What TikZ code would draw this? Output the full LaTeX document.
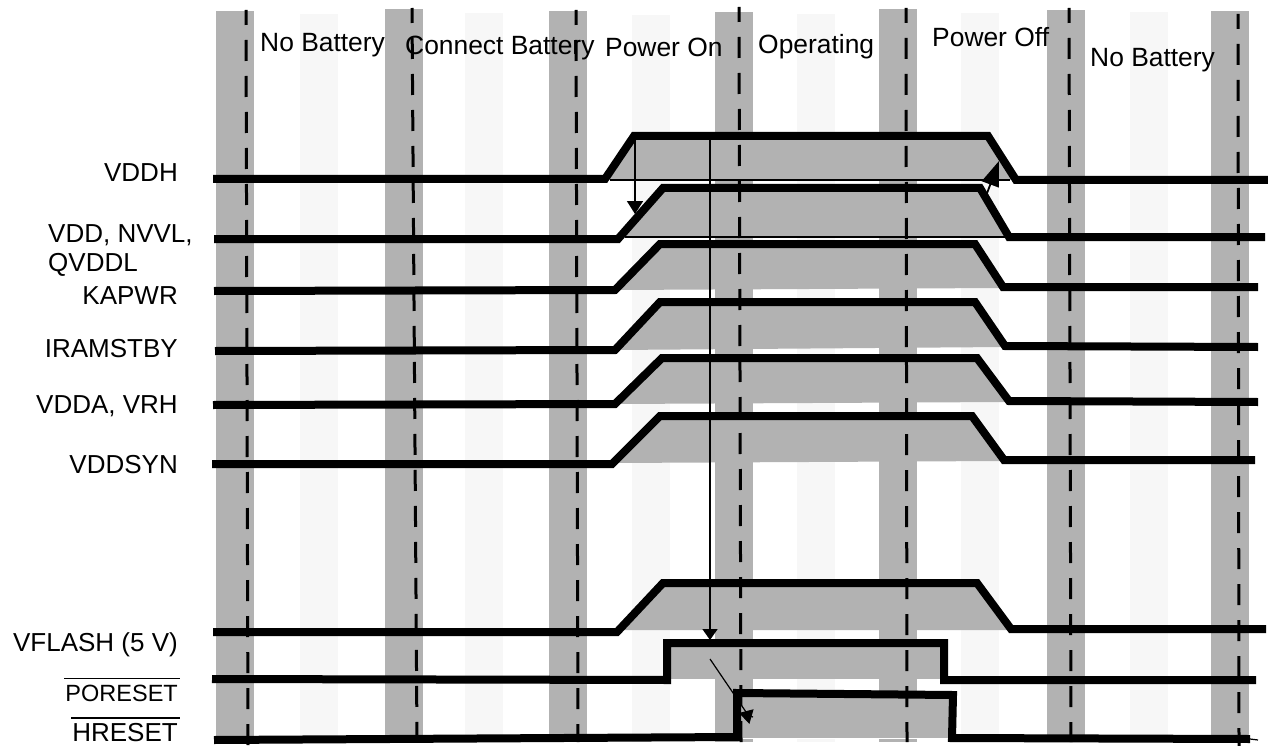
\documentclass[tikz,border=0pt]{standalone}
\usepackage{fontspec}
\setmainfont{Liberation Sans}
\usetikzlibrary{arrows.meta}
\definecolor{bardark}{HTML}{B2B2B2}
\definecolor{barlight}{HTML}{F7F7F7}
\begin{document}
\begin{tikzpicture}[x=1pt, y=-1pt,
    wave/.style={line width=8pt, miter limit=10},
    guide/.style={line width=3pt, dash pattern=on 21pt off 15pt, dash phase=6pt},
    rim/.style={line width=1.2pt},
    pointer/.style={line width=1.8pt},
    overbar/.style={line width=1.6pt},
    lab/.style={inner sep=0pt, font=\fontsize{26}{26}\selectfont},
    phase/.style={inner sep=0pt, anchor=base west, font=\fontsize{26.4}{26.4}\selectfont}]
    \useasboundingbox (0,0) rectangle (1268,746);
    % background stripes
    \fill[barlight] (300,14) rectangle (338,742);
    \fill[barlight] (465,13) rectangle (503,742);
    \fill[barlight] (632,15) rectangle (670,742);
    \fill[barlight] (797,14) rectangle (835,742);
    \fill[barlight] (961,13) rectangle (999,742);
    \fill[barlight] (1130,12) rectangle (1168,742);
    \fill[bardark] (216,11) rectangle (254,742);
    \fill[bardark] (385,9) rectangle (423,742);
    \fill[bardark] (549,11) rectangle (587,742);
    \fill[bardark] (715,12) rectangle (753,742);
    \fill[bardark] (879,9) rectangle (917,742);
    \fill[bardark] (1047,10) rectangle (1085,742);
    \fill[bardark] (1211,11) rectangle (1249,742);
    % shaded pulses
    \fill[bardark] (607,180) -- (635,136) -- (987,136) -- (1015,180) -- cycle;
    \fill[bardark] (618,237) -- (662,188) -- (980,188) -- (1008,237) -- cycle;
    \fill[bardark] (615,290) -- (660,244) -- (975,244) -- (1003,288) -- cycle;
    \fill[bardark] (615,350) -- (660,302) -- (975,302) -- (1005,347) -- cycle;
    \fill[bardark] (615,404) -- (662,358) -- (977,358) -- (1009,402) -- cycle;
    \fill[bardark] (612,463) -- (660,416) -- (972,416) -- (1004,461) -- cycle;
    \fill[bardark] (617,630) -- (663,583) -- (977,583) -- (1011,630) -- cycle;
    \fill[bardark] (667,643) rectangle (944,679);
    \fill[bardark] (737,693) -- (953,695) -- (952,738) -- (737,738) -- cycle;
    \draw[rim] (610,180) -- (1010,180);
    \draw[rim] (625,237) -- (1005,237);
    \draw[white, line width=1.5pt] (740,738.5) -- (950,738.5);
    % waveforms
    \draw[wave] (213,179) -- (605,179) -- (634,136) -- (988,136) -- (1016,180) -- (1268,180);
    \draw[wave] (214,239) -- (618,239) -- (663,188) -- (980,188) -- (1009,237) -- (1265,237);
    \draw[wave] (214,291) -- (615,290) -- (660,244) -- (975,244) -- (1003,287) -- (1258,287);
    \draw[wave] (215,351) -- (615,350) -- (660,302) -- (975,302) -- (1005,346) -- (1258,347);
    \draw[wave] (213,405) -- (615,404) -- (662,358) -- (977,358) -- (1009,401) -- (1258,402);
    \draw[wave] (212,464) -- (612,464) -- (660,416) -- (972,416) -- (1004,460) -- (1255,460);
    \draw[wave] (213,632) -- (617,632) -- (663,583) -- (977,583) -- (1011,629) -- (1266,629);
    \draw[wave] (212,679) -- (667,680) -- (667,643) -- (944,643) -- (944,680) -- (1256,680);
    \draw[wave] (214,740) -- (737,737) -- (737,693) -- (953,695) -- (952,738) -- (1250,739);
    \draw[rim] (1250,739) -- (1258,740);
    % dashed phase lines
    \draw[guide] (246,10) -- (248,746);
    \draw[guide] (412,8) -- (417,742);
    \draw[guide] (576,10) -- (578,742);
    \draw[guide] (739,7) -- (741,742);
    \draw[guide] (906,8) -- (907,742);
    \draw[guide] (1069,8) -- (1071,742);
    \draw[guide] (1238,14) -- (1239,746);
    % arrows
    \coordinate (downA) at (635,140);
    \coordinate (downB) at (635,214);
    \coordinate (longA) at (710,136);
    \coordinate (longB) at (710,640);
    \coordinate (fallA) at (986,196);
    \coordinate (fallB) at (999,161);
    \coordinate (slantA) at (710,659);
    \coordinate (slantB) at (746,712);
    \coordinate (slantC) at (753,717);
    \coordinate (slantD) at (739,713);
    \draw[pointer, -{Triangle[length=13pt,width=16pt]}] (downA) -- (downB);
    \draw[pointer, -{Triangle[length=11pt,width=15pt]}] (longA) -- (longB);
    \draw[pointer, -{Triangle[length=25pt,width=18pt]}] (fallA) -- (fallB);
    \draw[rim] (slantA) -- (slantB);
    \draw[rim, -{Triangle[length=13pt,width=15pt]}] (slantC) -- (slantD);
    % phase names
    \node[phase] (nobatA) at (260,52) {No Battery};
    \node[phase] (connect) at (405,55) {Connect Battery};
    \node[phase] (poweron) at (605,57) {Power On};
    \node[phase] (operating) at (758,54) {Operating};
    \node[phase] (poweroff) at (932,47) {Power Off};
    \node[phase] (nobatB) at (1090,67) {No Battery};
    % signal names
    \node[lab, anchor=base east] (vddh) at (178,182) {VDDH};
    \node[lab, anchor=base west] (vdd) at (48,242) {VDD, NVVL,};
    \node[lab, anchor=base west] (qvddl) at (48,271) {QVDDL};
    \node[lab, anchor=base east] (kapwr) at (178,304) {KAPWR};
    \node[lab, anchor=base east] (iramstby) at (178,357) {IRAMSTBY};
    \node[lab, anchor=base east] (vdda) at (178,413) {VDDA, VRH};
    \node[lab, anchor=base east] (vddsyn) at (178,473) {VDDSYN};
    \node[lab, anchor=base east] (vflash) at (178,651) {VFLASH (5 V)};
    \node[lab, anchor=base east, font=\fontsize{23.5}{24}\selectfont] (poreset) at (178,701) {PORESET};
    \node[lab, anchor=base east] (hreset) at (178,741.5) {HRESET};
    \draw[overbar] ([shift={(-1pt,6pt)}]poreset.north west) -- ([shift={(2pt,6pt)}]poreset.north east);
    \draw[overbar] ([shift={(-1pt,5pt)}]hreset.north west) -- ([shift={(2pt,5pt)}]hreset.north east);
\end{tikzpicture}
\end{document}
